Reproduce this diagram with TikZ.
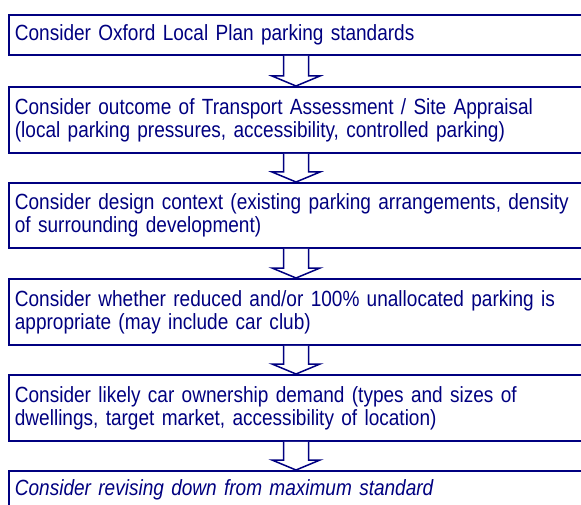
\documentclass[tikz,border=0pt]{standalone}
\usepackage{fontspec}
\setmainfont{Liberation Sans}[FakeStretch=0.865]
\usepackage{xcolor}
\definecolor{navy}{HTML}{000080}
\usetikzlibrary{calc}

\begin{document}
\begin{tikzpicture}[x=1pt, y=-1pt,
		stepbox/.style={draw=navy, line width=1.8pt, anchor=north west, align=left,
			text width=578pt, inner xsep=6pt, inner ysep=0pt, text=navy,
			font=\fontsize{22}{23}\selectfont},
		hollowarrow/.style={draw=navy, line width=1.5pt, fill=white, line join=miter}]

		\useasboundingbox (0,0) rectangle (581,505);
		\clip (0,0) rectangle (581,505);

		% ================= steps =================
		\node[stepbox, minimum height=40pt] (s1) at (8,14) {Consider Oxford Local Plan parking standards};
		\node[stepbox, minimum height=66pt] (s2) at (8,86) {Consider outcome of Transport Assessment / Site Appraisal\\(local parking pressures, accessibility, controlled parking)};
		\node[stepbox, minimum height=65pt] (s3) at (8,182) {Consider design context (existing parking arrangements, density\\of surrounding development)};
		\node[stepbox, minimum height=66pt] (s4) at (8,278) {Consider whether reduced and/or 100\% unallocated parking is\\appropriate (may include car club)};
		\node[stepbox, minimum height=66pt] (s5) at (8,374) {Consider likely car ownership demand (types and sizes of\\dwellings, target market, accessibility of location)};
		\node[stepbox, minimum height=50pt, text height=16pt, text depth=16pt] (s6) at (8,470) {\itshape Consider revising down from maximum standard};

		% ================= hollow arrows between steps =================
		\coordinate (arrx) at (296,0);
		\foreach \a/\b in {s1/s2,s2/s3,s3/s4,s4/s5,s5/s6}{
			\coordinate (f) at (\a.south -| arrx);
			\coordinate (t) at (\b.north -| arrx);
			\draw[hollowarrow] ($(f)+(-12.5,0)$) |- ($(t)+(-24,-10)$) -- (t) -- ++(24,-10) -- ++(-11.5,0) -- ($(f)+(12.5,0)$);
		}

	\end{tikzpicture}
\end{document}
